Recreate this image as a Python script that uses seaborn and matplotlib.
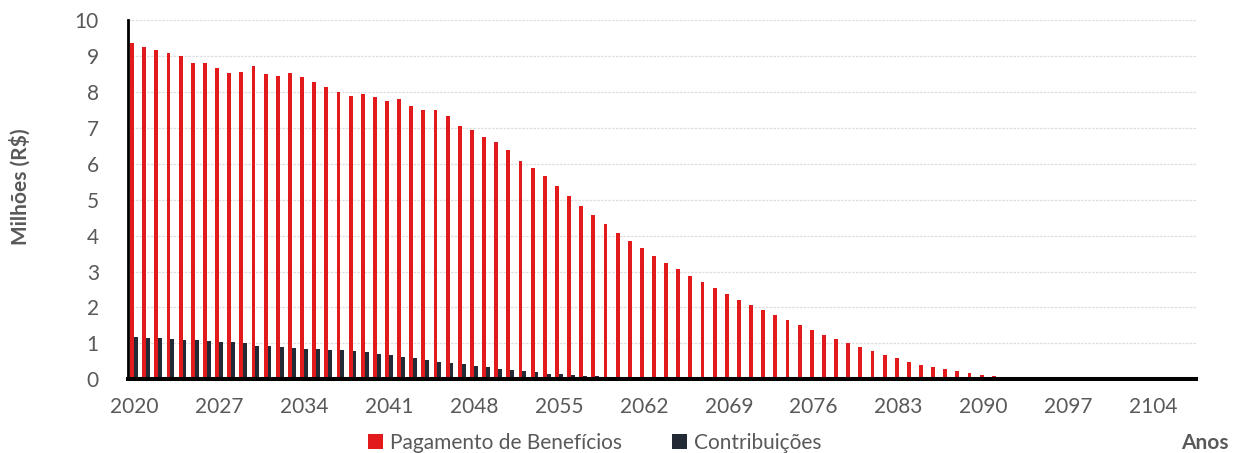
import pandas as pd
import numpy as np
import matplotlib
matplotlib.use('Agg')
import matplotlib.pyplot as plt
import seaborn as sns
from matplotlib.patches import Patch

# anos da projeção (2020 a 2107)
anos = list(range(2020, 2108))

# Pagamento de Benefícios, em milhões de R$
beneficios = [
    9.35, 9.25, 9.17, 9.08, 9.00, 8.80, 8.80, 8.67, 8.52, 8.56,
    8.71, 8.50, 8.44, 8.53, 8.40, 8.27, 8.13, 8.00, 7.89, 7.93,
    7.86, 7.75, 7.81, 7.61, 7.50, 7.49, 7.33, 7.06, 6.93, 6.75,
    6.61, 6.38, 6.08, 5.88, 5.66, 5.37, 5.09, 4.82, 4.57, 4.32,
    4.08, 3.86, 3.65, 3.44, 3.24, 3.06, 2.88, 2.70, 2.53, 2.37,
    2.22, 2.06, 1.92, 1.78, 1.64, 1.51, 1.38, 1.24, 1.13, 1.01,
    0.90, 0.78, 0.68, 0.58, 0.49, 0.41, 0.34, 0.28, 0.22, 0.17,
    0.13, 0.10, 0.07, 0.04, 0.03, 0.02, 0.01, 0.00, 0.00, 0.00,
    0.00, 0.00, 0.00, 0.00, 0.00, 0.00, 0.00, 0.00,
]

# Contribuições, em milhões de R$
contribuicoes = [
    1.17, 1.15, 1.14, 1.12, 1.09, 1.09, 1.06, 1.04, 1.04, 1.00,
    0.93, 0.93, 0.91, 0.86, 0.85, 0.84, 0.82, 0.81, 0.79, 0.75,
    0.71, 0.68, 0.62, 0.59, 0.55, 0.49, 0.45, 0.42, 0.37, 0.33,
    0.29, 0.25, 0.23, 0.19, 0.16, 0.14, 0.12, 0.10, 0.08, 0.06,
    0.05, 0.03, 0.02, 0.01, 0.00, 0.00, 0.00, 0.00, 0.00, 0.00,
    0.00, 0.00, 0.00, 0.00, 0.00, 0.00, 0.00, 0.00, 0.00, 0.00,
    0.00, 0.00, 0.00, 0.00, 0.00, 0.00, 0.00, 0.00, 0.00, 0.00,
    0.00, 0.00, 0.00, 0.00, 0.00, 0.00, 0.00, 0.00, 0.00, 0.00,
    0.00, 0.00, 0.00, 0.00, 0.00, 0.00, 0.00, 0.00,
]

series = ['Pagamento de Benefícios', 'Contribuições']
cores = ['#E31A1C', '#222A35']
rotulos_x = [str(a) for a in anos[::7]]

df = pd.DataFrame({
    'Ano': [str(a) for a in anos] * 2,
    'Valor': beneficios + contribuicoes,
    'Série': [series[0]] * len(anos) + [series[1]] * len(anos),
})

sns.set_style('white')
plt.rcParams['font.family'] = ['Lato', 'DejaVu Sans']
cinza = '#595959'
fs = 15

fig = plt.figure(figsize=(12.4, 4.53), dpi=100)
ax = fig.add_axes([128 / 1240, (453 - 379.3) / 453, (1196 - 128) / 1240, (379.3 - 20) / 453])

sns.barplot(data=df, x='Ano', y='Valor', hue='Série', hue_order=series,
            palette=cores, width=0.64, saturation=1, legend=False, ax=ax,
            linewidth=0)

ax.set_xlim(-0.5, len(anos) - 0.5)
ax.set_ylim(0, 10)
ax.set_yticks(range(0, 11))
ax.set_xticks(range(0, len(anos), 7))
ax.set_xticklabels(rotulos_x)
ax.tick_params(axis='y', length=0, pad=21, labelsize=fs, labelcolor=cinza)
ax.tick_params(axis='x', length=0, pad=13, labelsize=fs, labelcolor=cinza)

ax.yaxis.grid(True, color='#dedede', linestyle=(0, (2, 1)), linewidth=0.9)
ax.set_axisbelow(True)
for s in ['top', 'right']:
    ax.spines[s].set_visible(False)
ax.spines['left'].set_color('black')
ax.spines['left'].set_linewidth(2.0)
ax.spines['bottom'].set_color('black')
ax.spines['bottom'].set_linewidth(2.9)

ax.set_xlabel('')
ax.set_ylabel('')
fig.text(20 / 1240, 1 - 187 / 453, 'Milhões (R$)', rotation=90, ha='center',
         va='center', fontsize=fs, fontweight='bold', color=cinza)
fig.text(1205 / 1240, 1 - 443 / 453, 'Anos', ha='center', va='center',
         fontsize=fs, fontweight='bold', color=cinza)

handles = [Patch(facecolor=c, edgecolor='none') for c in cores]
fig.legend(handles, series, loc='center', bbox_to_anchor=(595 / 1240, 1 - 443 / 453),
           ncol=2, frameon=False, fontsize=fs, labelcolor=cinza,
           handlelength=0.7, handleheight=0.7, handletextpad=0.35,
           columnspacing=2.4)

fig.savefig('out.png', dpi=100)
